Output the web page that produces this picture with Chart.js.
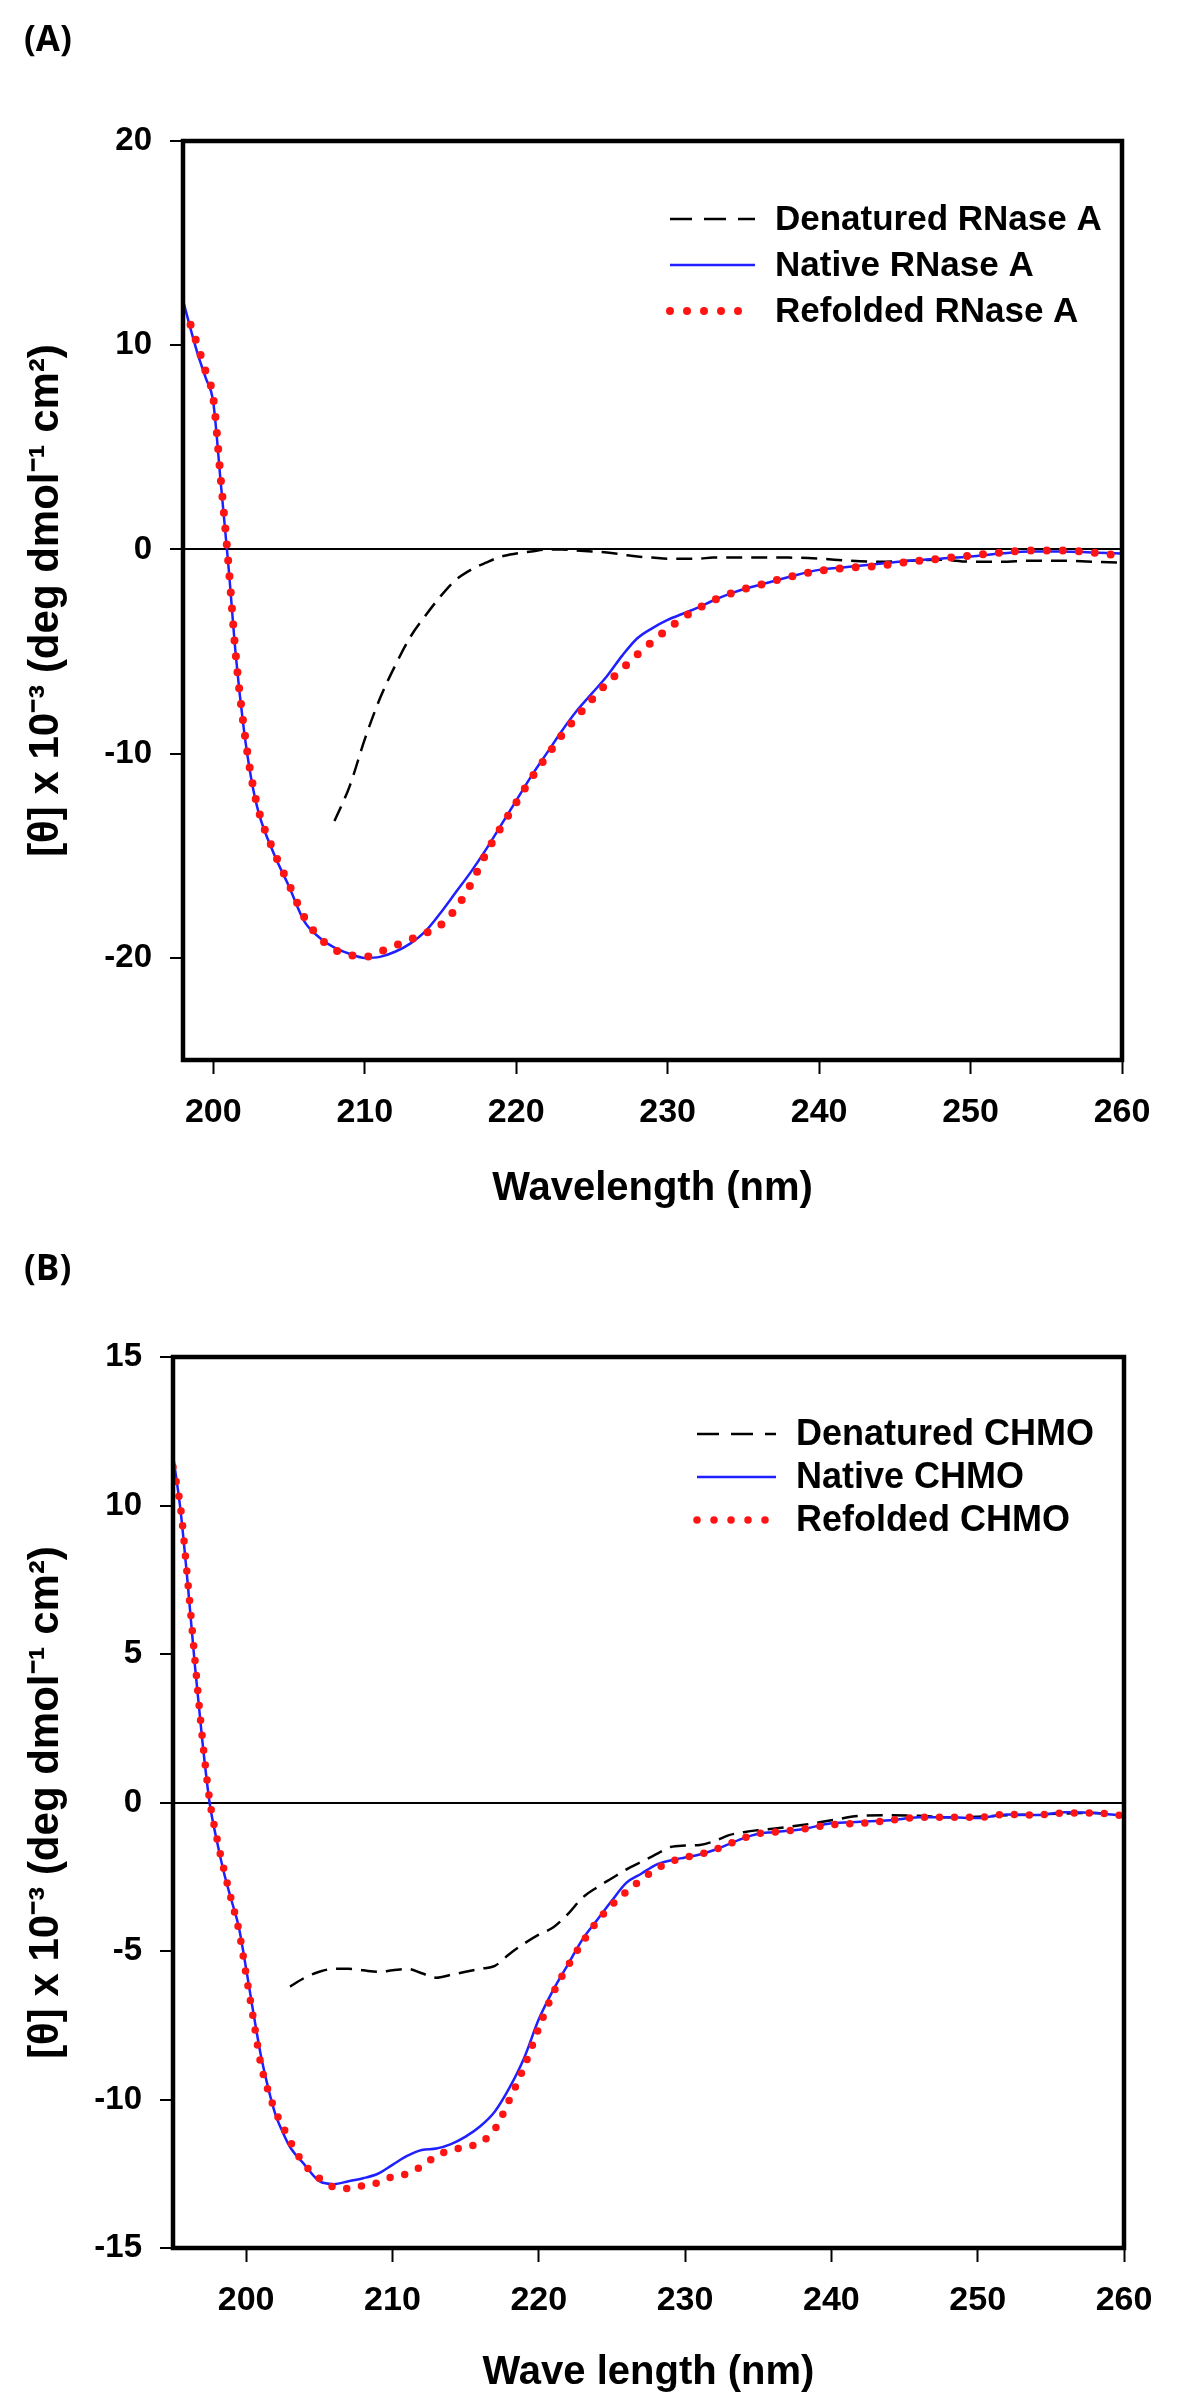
<!DOCTYPE html>
<html>
<head>
<meta charset="utf-8">
<script src="https://cdn.jsdelivr.net/npm/chart.js@4.4.1/dist/chart.umd.min.js"></script>
<style>
  body { margin: 0; background: #fff; }
  #wrap { position: relative; width: 1200px; height: 2406px; background: #fff; }
  canvas { position: absolute; left: 0; }
  .panel { position: absolute; left: 24px; z-index: 2; font: bold 35px 'Open Sans', 'Liberation Sans', sans-serif; color: #000; }
</style>
</head>
<body>
<div id="wrap">
  <canvas id="chartA" width="1200" height="1220" style="top:0"></canvas>
  <canvas id="chartB" width="1200" height="1186" style="top:1220px"></canvas>
  <div class="panel" style="top:14px">(A)</div>
  <div class="panel" style="top:1243px">(B)</div>
</div>
<script>
// ---- panel A : RNase A ----
const namesA = ["Denatured RNase A", "Native RNase A", "Refolded RNase A"];
const waveA = [198, 198.5, 199, 199.5, 200, 200.5, 201, 201.5, 202, 202.5, 203,
  204, 205, 206, 207, 208, 209, 210, 211, 212, 213, 214, 215, 216, 217, 218, 219, 220,
  221, 222, 223, 224, 225, 226, 227, 228, 229, 230, 231, 232, 233, 234, 235, 236,
  238, 240, 242, 244, 246, 248, 250, 252, 254, 256, 258, 260];
const denatA = [null, null, null, null, null, null, null, null, null, null, null,
  null, null, null, null, -13.3, -11.6, -9.3, -7.3, -5.7, -4.3, -3.25, -2.3, -1.5, -1.0, -0.65, -0.35, -0.2,
  -0.1, 0, 0, -0.05, -0.1, -0.15, -0.25, -0.35, -0.4, -0.45, -0.45, -0.45, -0.4, -0.4, -0.4, -0.4,
  -0.4, -0.45, -0.55, -0.6, -0.55, -0.5, -0.6, -0.6, -0.55, -0.55, -0.6, -0.65];
const nativeA = [12.2, 10.8, 9.5, 8.4, 7.2, 3.2, -0.8, -5.3, -8.7, -11.2, -12.9,
  -14.9, -16.5, -18.2, -19.0, -19.5, -19.8, -20.0, -19.95, -19.7, -19.3, -18.7, -17.8, -16.8, -15.8, -14.7, -13.5, -12.3,
  -11.1, -10.0, -8.9, -7.9, -7.05, -6.2, -5.2, -4.35, -3.85, -3.45, -3.15, -2.85, -2.5, -2.2, -1.95, -1.75,
  -1.35, -1.0, -0.85, -0.7, -0.55, -0.45, -0.35, -0.2, -0.1, -0.1, -0.15, -0.2];
const refoldA = [null, 11.0, 9.9, 8.7, 7.4, 3.4, -0.7, -5.3, -8.6, -11.1, -12.8,
  -14.8, -16.4, -18.0, -19.0, -19.6, -19.85, -19.95, -19.7, -19.4, -19.1, -18.8, -18.4, -17.6, -16.4, -14.9, -13.6, -12.4,
  -11.2, -10.15, -9.1, -8.2, -7.35, -6.55, -5.85, -5.15, -4.5, -3.9, -3.35, -2.9, -2.5, -2.2, -1.95, -1.75,
  -1.35, -1.05, -0.9, -0.8, -0.6, -0.45, -0.3, -0.15, -0.05, -0.05, -0.15, -0.3];
const xTicksA = [200, 210, 220, 230, 240, 250, 260];
const yTicksA = [20, 10, 0, -10, -20];

// ---- panel B : CHMO ----
const namesB = ["Denatured CHMO", "Native CHMO", "Refolded CHMO"];
const waveB = [195, 195.5, 196, 196.5, 197, 197.5, 198, 198.5, 199, 199.5, 200, 200.5, 201, 201.5, 202, 202.5, 203,
  204, 205, 206, 207, 208, 209, 210, 211, 212, 213, 214, 215, 216, 217, 218, 219, 220,
  221, 222, 223, 224, 225, 226, 227, 228, 229, 230, 231, 232, 233, 234, 235, 236,
  238, 240, 242, 244, 246, 248, 250, 252, 254, 256, 258, 260];
const denatB = [null, null, null, null, null, null, null, null, null, null, null, null, null, null, null, null, -6.2,
  -5.9, -5.7, -5.6, -5.6, -5.65, -5.7, -5.65, -5.6, -5.75, -5.9, -5.8, -5.7, -5.6, -5.5, -5.1, -4.75, -4.45,
  -4.2, -3.75, -3.2, -2.85, -2.55, -2.25, -2.0, -1.75, -1.5, -1.45, -1.43, -1.3, -1.1, -1.0, -0.93, -0.88,
  -0.76, -0.6, -0.45, -0.43, -0.45, -0.5, -0.48, -0.43, -0.4, -0.37, -0.35, -0.45];
const nativeB = [11.7, 9.9, 7.4, 4.6, 2.1, 0, -1.3, -2.4, -3.3, -4.2, -5.6, -7.1, -8.5, -9.6, -10.5, -11.1, -11.6,
  -12.2, -12.75, -12.85, -12.75, -12.65, -12.5, -12.2, -11.9, -11.7, -11.65, -11.5, -11.25, -10.9, -10.4, -9.6, -8.6, -7.3,
  -6.3, -5.45, -4.6, -3.95, -3.3, -2.7, -2.4, -2.1, -1.95, -1.85, -1.75, -1.6, -1.4, -1.2, -1.05, -1.0,
  -0.9, -0.7, -0.65, -0.6, -0.5, -0.5, -0.52, -0.4, -0.42, -0.33, -0.35, -0.45];
const refoldB = [11.3, 10.0, 7.5, 4.8, 2.2, 0.1, -1.2, -2.3, -3.3, -4.3, -5.8, -7.3, -8.8, -9.7, -10.4, -10.9, -11.4,
  -12.2, -12.65, -12.95, -13.0, -12.9, -12.8, -12.6, -12.5, -12.25, -11.9, -11.7, -11.6, -11.45, -11.0, -10.0, -8.9, -7.6,
  -6.4, -5.5, -4.7, -4.0, -3.45, -3.0, -2.6, -2.25, -2.0, -1.85, -1.75, -1.6, -1.4, -1.2, -1.05, -1.0,
  -0.9, -0.75, -0.7, -0.6, -0.5, -0.5, -0.5, -0.4, -0.42, -0.35, -0.35, -0.45];
const xTicksB = [200, 210, 220, 230, 240, 250, 260];
const yTicksB = [15, 10, 5, 0, -5, -10, -15];

const yTitle = "[\u03b8] x 10\u207b\u00b3 (deg dmol\u207b\u00b9 cm\u00b2)";
const FONT = "'Liberation Sans', Arial, sans-serif";

function pts(wave, vals) {
  return wave.map((x, i) => ({ x: x, y: vals[i] }));
}

// box round the plot area
const framePlugin = {
  id: "frame",
  afterDraw(chart) {
    const { ctx, chartArea: a } = chart;
    ctx.save();
    ctx.strokeStyle = "#000";
    ctx.lineWidth = 4.5;
    ctx.strokeRect(a.left, a.top, a.right - a.left, a.bottom - a.top);
    ctx.restore();
  }
};

// legend drawn inside the plot, line samples left of the names
const keyPlugin = {
  id: "key",
  afterDraw(chart, args, opts) {
    const ctx = chart.ctx;
    chart.data.datasets.forEach((ds, i) => {
      const y = opts.top + i * opts.gap;
      ctx.save();
      ctx.strokeStyle = ds.borderColor;
      ctx.lineWidth = ds.borderWidth;
      ctx.lineCap = ds.borderCapStyle || "butt";
      ctx.setLineDash(ds.keyDash || []);
      ctx.beginPath();
      ctx.moveTo(opts.x0, y);
      ctx.lineTo(opts.x1, y);
      ctx.stroke();
      ctx.restore();
      ctx.save();
      ctx.fillStyle = "#000";
      ctx.font = "bold " + opts.size + "px " + FONT;
      ctx.textBaseline = "middle";
      ctx.fillText(ds.label, opts.textX, y + 1);
      ctx.restore();
    });
  }
};

function makeChart(id, p) {
  return new Chart(document.getElementById(id), {
    type: "line",
    data: {
      datasets: [
        {
          label: p.names[0], data: pts(p.wave, p.denat), order: 2,
          borderColor: "#000", borderWidth: 2.5, borderDash: [16, 9], keyDash: [22, 12],
          pointRadius: 0, cubicInterpolationMode: "monotone", fill: false
        },
        {
          label: p.names[1], data: pts(p.wave, p.native), order: 1,
          borderColor: "#1f1fff", borderWidth: 2.5,
          pointRadius: 0, cubicInterpolationMode: "monotone", fill: false
        },
        {
          label: p.names[2], data: pts(p.wave, p.refold), order: 0,
          borderColor: "#ff1414", borderWidth: p.dot, borderDash: [0, p.dotGap], keyDash: [0, 17],
          borderCapStyle: "round", borderJoinStyle: "round",
          pointRadius: 0, cubicInterpolationMode: "monotone", fill: false
        }
      ]
    },
    options: {
      responsive: false,
      animation: false,
      events: [],
      layout: { padding: { left: 0, top: p.top, right: p.right, bottom: 0 } },
      plugins: {
        legend: { display: false },
        tooltip: { enabled: false },
        key: p.key
      },
      scales: {
        x: {
          type: "linear", min: p.xMin, max: 260,
          afterBuildTicks: s => { s.ticks = p.xTicks.map(v => ({ value: v })); },
          afterFit: s => { s.height = p.xAxisH; },
          border: { display: false },
          grid: { color: "rgba(0,0,0,0)", tickColor: "#000", tickLength: 14, tickWidth: 2 },
          ticks: { color: "#000", font: { family: FONT, size: 34, weight: "bold" }, padding: 18, maxRotation: 0,
            callback: v => String(v) },
          title: { display: true, text: p.xTitle, color: "#000",
            font: { family: FONT, size: 40, weight: "bold" }, padding: { top: 0, bottom: p.xTitlePad } }
        },
        y: {
          type: "linear", min: p.yMin, max: p.yMax,
          afterBuildTicks: s => { s.ticks = p.yTicks.map(v => ({ value: v })); },
          afterFit: s => { s.width = p.left; },
          border: { display: false },
          grid: {
            color: c => (c.tick && c.tick.value === 0 ? "#000" : "rgba(0,0,0,0)"),
            lineWidth: 2, tickColor: "#000", tickLength: 13, tickWidth: 2
          },
          ticks: { color: "#000", font: { family: FONT, size: 33, weight: "bold" }, padding: 18,
            callback: v => String(v) },
          title: { display: true, text: yTitle, color: "#000",
            font: { family: FONT, size: 42, weight: "bold" }, padding: { top: 21, bottom: 0 } }
        }
      }
    },
    plugins: [framePlugin, keyPlugin]
  });
}

makeChart("chartA", {
  names: namesA, wave: waveA, denat: denatA, native: nativeA, refold: refoldA,
  xMin: 198, yMin: -25, yMax: 20, xTicks: xTicksA, yTicks: yTicksA,
  top: 141, right: 78, left: 183, xAxisH: 160, xTitlePad: 7,
  xTitle: "Wavelength (nm)", dot: 8, dotGap: 16,
  key: { x0: 670, x1: 755, textX: 775, top: 219, gap: 46, size: 35 }
});

makeChart("chartB", {
  names: namesB, wave: waveB, denat: denatB, native: nativeB, refold: refoldB,
  xMin: 195, yMin: -15, yMax: 15, xTicks: xTicksB, yTicks: yTicksB,
  top: 137, right: 76, left: 173, xAxisH: 158, xTitlePad: 9,
  xTitle: "Wave length (nm)", dot: 7.5, dotGap: 15,
  key: { x0: 697, x1: 776, textX: 796, top: 214, gap: 43, size: 36 }
});
</script>
</body>
</html>
